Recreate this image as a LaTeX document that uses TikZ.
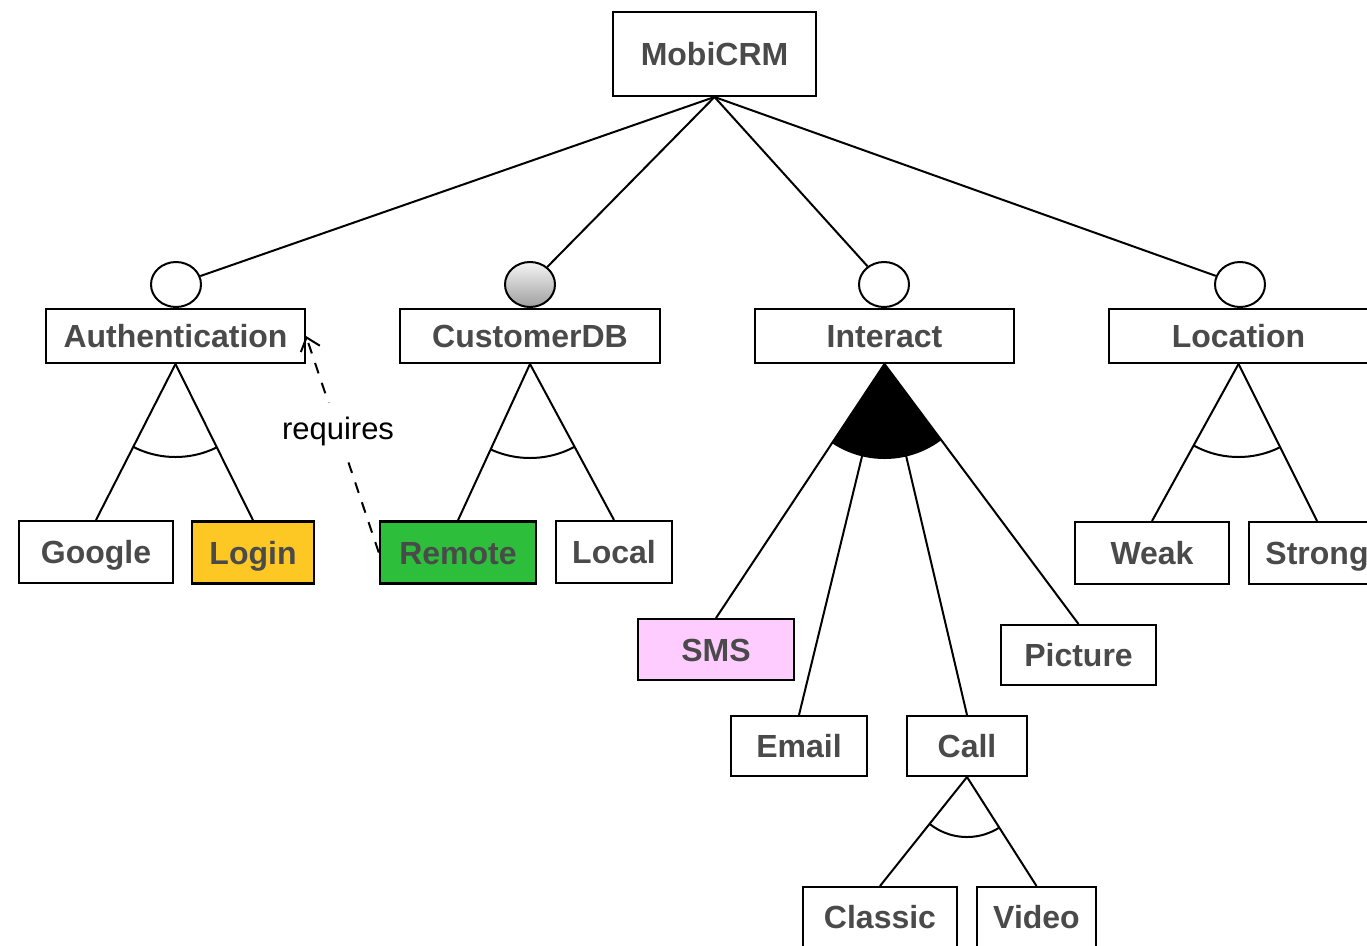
\documentclass[tikz,border=0pt]{standalone}
\usepackage{fontspec}
\setmainfont{Liberation Sans}
\usetikzlibrary{shapes.geometric,arrows.meta}
\definecolor{labelgray}{HTML}{4A4A4A}
\definecolor{loginfill}{HTML}{FDC823}
\definecolor{remotefill}{HTML}{2DBE3C}
\definecolor{smsfill}{HTML}{FFCCFF}
\begin{document}
\begin{tikzpicture}[x=1pt,y=-1pt,
  feat/.style={draw, line width=2pt, fill=white, inner sep=0pt,
    text height=23pt, text depth=0pt,
    font=\fontsize{32}{37}\selectfont\bfseries, text=labelgray},
  knob/.style={ellipse, draw, line width=2pt, fill=white, inner sep=0pt,
    minimum width=50pt, minimum height=45pt},
  edge/.style={line width=2pt},
  groupArc/.style={line width=2pt}]
\useasboundingbox (0,0) rectangle (1367,945);
\clip (0,0) rectangle (1367,945);

% features
\node[feat, minimum width=203pt, minimum height=84pt] (mobi) at (714.5,54) {MobiCRM};
\node[feat, minimum width=259pt, minimum height=54pt] (auth) at (175.5,336) {Authentication};
\node[feat, minimum width=260pt, minimum height=54pt] (cdb) at (530,336) {CustomerDB};
\node[feat, minimum width=259pt, minimum height=54pt] (inter) at (884.5,336) {Interact};
\node[feat, minimum width=259pt, minimum height=54pt] (loc) at (1238.5,336) {Location};

\node[feat, minimum width=154pt, minimum height=62pt] (google) at (96,552) {Google};
\node[feat, fill=loginfill, line width=2.5pt, minimum width=122pt, minimum height=62pt] (login) at (253,552.5) {Login};
\node[feat, fill=remotefill, line width=2.5pt, minimum width=156pt, minimum height=62pt] (remote) at (458,552.5) {Remote};
\node[feat, minimum width=116pt, minimum height=62pt] (local) at (614,552) {Local};

\node[feat, fill=smsfill, minimum width=156pt, minimum height=61pt] (sms) at (716,649.5) {SMS};
\node[feat, minimum width=136pt, minimum height=60pt] (email) at (799,746) {Email};
\node[feat, minimum width=120pt, minimum height=60pt] (call) at (967,746) {Call};
\node[feat, minimum width=155pt, minimum height=60pt] (picture) at (1078.5,655) {Picture};

\node[feat, minimum width=154pt, minimum height=60pt] (classic) at (880,917) {Classic};
\node[feat, minimum width=119pt, minimum height=60pt] (video) at (1036.5,917) {Video};

\node[feat, minimum width=154pt, minimum height=62pt] (weak) at (1152,553) {Weak};
\node[feat, minimum width=136pt, minimum height=62pt] (strong) at (1317,553) {Strong};

% optional / mandatory markers
\node[knob] (kauth) at (176,284.5) {};
\node[knob, shading=axis, top color=gray!8, bottom color=gray!75] (kcdb) at (530,284.5) {};
\node[knob] (kinter) at (884,284.5) {};
\node[knob] (kloc) at (1240,284.5) {};

% root decomposition
\draw[edge] (mobi.south) -- (kauth);
\draw[edge] (mobi.south) -- (kcdb);
\draw[edge] (mobi.south) -- (kinter);
\draw[edge] (mobi.south) -- (kloc);

% alternative groups
\draw[edge] (auth.south) -- (google.north);
\draw[edge] (auth.south) -- (login.north);
\begin{scope}
  \clip (auth.south) -- (google.north) -- (login.north) -- cycle;
  \draw[groupArc] (auth.south) circle (93pt);
\end{scope}

\draw[edge] (cdb.south) -- (remote.north);
\draw[edge] (cdb.south) -- (local.north);
\begin{scope}
  \clip (cdb.south) -- (remote.north) -- (local.north) -- cycle;
  \draw[groupArc] (cdb.south) circle (94pt);
\end{scope}

\draw[edge] (loc.south) -- (weak.north);
\draw[edge] (loc.south) -- (strong.north);
\begin{scope}
  \clip (loc.south) -- (weak.north) -- (strong.north) -- cycle;
  \draw[groupArc] (loc.south) circle (93pt);
\end{scope}

\draw[edge] (call.south) -- (classic.north);
\draw[edge] (call.south) -- (video.north);
\begin{scope}
  \clip (call.south) -- (classic.north) -- (video.north) -- cycle;
  \draw[groupArc] (call.south) circle (60pt);
\end{scope}

% or group
\draw[edge] (inter.south) -- (sms.north);
\draw[edge] (inter.south) -- (email.north);
\draw[edge] (inter.south) -- (call.north);
\draw[edge] (inter.south) -- (picture.north);
\begin{scope}
  \clip (inter.south) -- (sms.north) -- (picture.north) -- cycle;
  \fill (inter.south) circle (95pt);
\end{scope}

% cross-tree constraint
\draw[line width=2pt, dash pattern=on 11pt off 10pt,
  -{Straight Barb[length=12pt, width=20pt, line width=2pt]}]
  (remote.west) -- node[pos=0.56, fill=white, inner xsep=2pt, inner ysep=14pt,
    font=\fontsize{31}{36}\selectfont] (req) {requires} (auth.east);
\end{tikzpicture}
\end{document}
